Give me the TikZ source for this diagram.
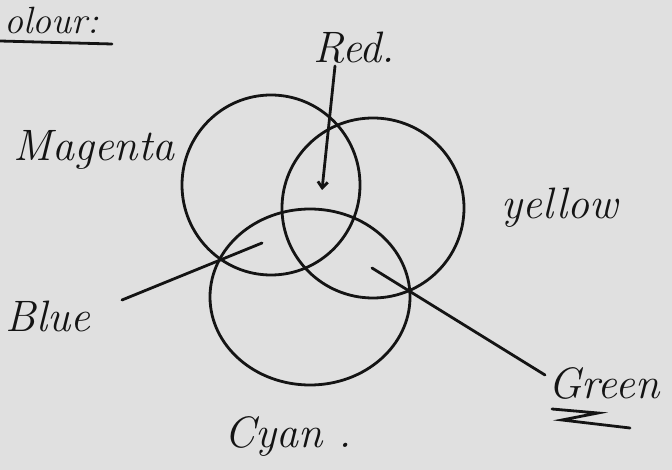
\documentclass[tikz,border=0pt]{standalone}
\usetikzlibrary{arrows.meta}
\definecolor{paper}{RGB}{224,224,224}
\definecolor{ink}{RGB}{20,20,20}
\begin{document}
\begin{tikzpicture}[x=1pt,y=-1pt,
  inkline/.style={draw=ink,line width=2.8pt,line cap=round},
  circ/.style={draw=ink,line width=2.8pt},
  lbl/.style={text=ink,font=\fontsize{44}{46}\selectfont\itshape,inner sep=0pt}]
\fill[paper] (0,0) rectangle (672,470);
\useasboundingbox (0,0) rectangle (672,470);
% circles
\draw[circ] (271,185) ellipse [x radius=89,y radius=90];
\draw[circ] (373,208) ellipse [x radius=91,y radius=90];
\draw[circ] (310,297) ellipse [x radius=100,y radius=88];
% title
\node[lbl,anchor=west,font=\fontsize{38}{40}\selectfont\itshape] (title) at (4,21) {olour:};
\coordinate (ul1) at (0,41);
\coordinate (ul2) at (112,44);
\draw[inkline] (ul1) -- (ul2);
% labels
\node[lbl] (red) at (354,48) {Red.};
\node[lbl] (magenta) at (94,150) {Magenta};
\node[lbl] (yellow) at (560,208) {yellow};
\node[lbl] (blue) at (48,316) {Blue};
\node[lbl] (green) at (604,383) {Green};
\node[lbl] (cyan) at (288,436) {Cyan .};
% connectors
\coordinate (redstart) at (335,66);
\coordinate (redtip) at (322,190);
\draw[inkline,-{Straight Barb[length=6pt,width=10pt]}] (redstart) -- (redtip);
\coordinate (bluestart) at (122,300);
\coordinate (bluein) at (262,243);
\draw[inkline] (bluestart) -- (bluein);
\coordinate (greenin) at (372,268);
\coordinate (greenend) at (545,375);
\draw[inkline] (greenin) -- (greenend);
% underline of Green
\coordinate (g1) at (552,409);
\coordinate (g2) at (598,413);
\coordinate (g3) at (562,420);
\coordinate (g4) at (630,428);
\draw[inkline] (g1) -- (g2) -- (g3) -- (g4);
\end{tikzpicture}
\end{document}
